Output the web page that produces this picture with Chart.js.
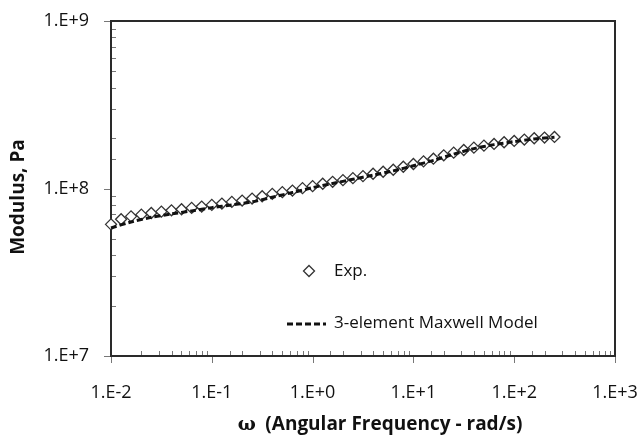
<!DOCTYPE html>
<html>
<head>
<meta charset="utf-8">
<script src="https://cdn.jsdelivr.net/npm/chart.js@4"></script>
<style>
  html, body { margin: 0; padding: 0; background: #fff; }
  #wrap { width: 640px; height: 437px; }
</style>
</head>
<body>
<div id="wrap"><canvas id="myChart" width="640" height="437"></canvas></div>
<script>
// angular frequency (rad/s)
var freqExp = [0.01, 0.0126, 0.0158, 0.02, 0.0251, 0.0316, 0.0398, 0.0501, 0.0631, 0.0794,
  0.1, 0.126, 0.158, 0.2, 0.251, 0.316, 0.398, 0.501, 0.631, 0.794,
  1, 1.26, 1.58, 2, 2.51, 3.16, 3.98, 5.01, 6.31, 7.94,
  10, 12.6, 15.8, 20, 25.1, 31.6, 39.8, 50.1, 63.1, 79.4,
  100, 126, 158, 200, 251];
// modulus, Pa (experiment)
var modExp = [6.11e7, 6.55e7, 6.82e7, 6.98e7, 7.14e7, 7.28e7, 7.41e7, 7.52e7, 7.66e7, 7.80e7,
  7.98e7, 8.13e7, 8.32e7, 8.47e7, 8.71e7, 8.99e7, 9.29e7, 9.51e7, 9.72e7, 1.005e8,
  1.033e8, 1.067e8, 1.096e8, 1.122e8, 1.153e8, 1.186e8, 1.225e8, 1.259e8, 1.294e8, 1.349e8,
  1.400e8, 1.452e8, 1.507e8, 1.578e8, 1.637e8, 1.698e8, 1.754e8, 1.803e8, 1.845e8, 1.888e8,
  1.923e8, 1.959e8, 1.995e8, 2.014e8, 2.032e8];
// 3-element maxwell model
var freqModel = [0.01, 0.0158, 0.0251, 0.0398, 0.0631, 0.1, 0.158, 0.251, 0.398, 0.631,
  1, 1.58, 2.51, 3.98, 6.31, 10, 15.8, 25.1, 39.8, 63.1, 100, 158, 251];
var modModel = [5.81e7, 6.31e7, 6.73e7, 7.05e7, 7.35e7, 7.69e7, 7.98e7, 8.32e7, 8.87e7, 9.46e7,
  1.012e8, 1.072e8, 1.135e8, 1.202e8, 1.274e8, 1.368e8, 1.472e8, 1.603e8, 1.730e8, 1.828e8,
  1.905e8, 1.977e8, 2.023e8];

var seriesNames = ['Exp.', '3-element Maxwell Model'];
var xTitle = '(Angular Frequency - rad/s)';
var yTitle = 'Modulus, Pa';

var FONT = '"Open Sans", sans-serif';

function pts(xs, ys) {
  var out = [];
  for (var i = 0; i < xs.length; i++) out.push({ x: xs[i], y: ys[i] });
  return out;
}

// label only the decades, like 1.E+8
function decadeLabel(value) {
  var l = Math.log10(value);
  if (Math.abs(l - Math.round(l)) > 1e-6) return '';
  var p = Math.round(l);
  return '1.E' + (p < 0 ? '-' : '+') + Math.abs(p);
}

// frame, tick marks, legend and axis titles
var extras = {
  id: 'extras',
  beforeDatasetsDraw: function (chart) {
    var c = chart.ctx, a = chart.chartArea;
    var xs = chart.scales.x, ys = chart.scales.y;
    c.save();
    // tick marks: decades outside, minors inside
    c.strokeStyle = '#777';
    c.lineWidth = 1;
    c.beginPath();
    xs.ticks.forEach(function (t) {
      var px = Math.round(xs.getPixelForValue(t.value)) + 0.5;
      if (decadeLabel(t.value)) { c.moveTo(px, a.bottom); c.lineTo(px, a.bottom + 7); }
      else { c.moveTo(px, a.bottom); c.lineTo(px, a.bottom - 5); }
    });
    ys.ticks.forEach(function (t) {
      var py = Math.round(ys.getPixelForValue(t.value)) + 0.5;
      if (decadeLabel(t.value)) { c.moveTo(a.left - 7, py); c.lineTo(a.left, py); }
      else { c.moveTo(a.left, py); c.lineTo(a.left + 5, py); }
    });
    c.stroke();
    // box
    c.strokeStyle = '#2a2a2a';
    c.lineWidth = 2;
    c.strokeRect(a.left, a.top, a.right - a.left, a.bottom - a.top);
    c.restore();
  },
  afterDraw: function (chart) {
    var c = chart.ctx;
    c.save();

    // legend
    var ds0 = chart.data.datasets[0], ds1 = chart.data.datasets[1];
    c.font = '17px ' + FONT;
    c.textBaseline = 'middle';
    c.textAlign = 'left';
    c.fillStyle = '#fff';
    c.strokeStyle = '#333';
    c.lineWidth = 1.3;
    c.beginPath();
    c.moveTo(309, 265.5); c.lineTo(314.5, 271); c.lineTo(309, 276.5); c.lineTo(303.5, 271); c.closePath();
    c.fill(); c.stroke();
    c.fillStyle = '#111';
    c.fillText(ds0.label, 334, 271);
    c.strokeStyle = '#111';
    c.lineWidth = 3;
    c.setLineDash([6, 3]);
    c.beginPath();
    c.moveTo(287, 324); c.lineTo(326, 324);
    c.stroke();
    c.setLineDash([]);
    c.fillText(ds1.label, 334, 323);

    // axis titles
    c.font = 'bold 19px "DejaVu Serif", serif';
    var wOmega = c.measureText('\u03c9 ').width + 3;
    c.font = 'bold 19px ' + FONT;
    var wRest = c.measureText(xTitle).width;
    var x0 = 380 - (wOmega + wRest) / 2;
    c.font = 'bold 19px "DejaVu Serif", serif';
    c.fillText('\u03c9', x0, 425);
    c.font = 'bold 19px ' + FONT;
    c.fillText(xTitle, x0 + wOmega, 425);

    c.font = 'bold 19px ' + FONT;
    c.translate(19, 197);
    c.rotate(-Math.PI / 2);
    c.textAlign = 'center';
    c.fillText(yTitle, 0, 0);
    c.restore();
  }
};

// invisible grid ticks push the labels away from the axes
var hiddenGrid = function (len) {
  return { display: true, drawOnChartArea: false, drawTicks: true, tickLength: len, color: 'rgba(0,0,0,0)' };
};

var ctx = document.getElementById('myChart').getContext('2d');
var chart = new Chart(ctx, {
  type: 'scatter',
  data: {
    datasets: [
      {
        label: seriesNames[0],
        data: pts(freqExp, modExp),
        pointStyle: 'rectRot',
        pointRadius: 5.5,
        pointBorderWidth: 1.3,
        pointBackgroundColor: '#fff',
        pointBorderColor: '#333',
        showLine: false,
        clip: false,
        order: 2
      },
      {
        label: seriesNames[1],
        data: pts(freqModel, modModel),
        showLine: true,
        borderColor: '#111',
        borderWidth: 3,
        borderDash: [6, 3],
        pointRadius: 0,
        tension: 0.3,
        clip: false,
        order: 1
      }
    ]
  },
  options: {
    responsive: false,
    animation: false,
    layout: { padding: { left: 0, top: 21, right: 25, bottom: 0 } },
    plugins: { legend: { display: false }, tooltip: { enabled: false } },
    scales: {
      x: {
        type: 'logarithmic',
        min: 0.01,
        max: 1000,
        grid: hiddenGrid(26),
        border: { display: false },
        ticks: {
          autoSkip: false,
          maxRotation: 0,
          padding: 0,
          color: '#111',
          font: { family: FONT, size: 18 },
          callback: function (v) { return decadeLabel(v); }
        },
        afterFit: function (s) { s.height = 81; }
      },
      y: {
        type: 'logarithmic',
        min: 1e7,
        max: 1e9,
        grid: hiddenGrid(22),
        border: { display: false },
        ticks: {
          autoSkip: false,
          padding: 0,
          color: '#111',
          font: { family: FONT, size: 18 },
          callback: function (v) { return decadeLabel(v); }
        },
        afterFit: function (s) { s.width = 111; }
      }
    }
  },
  plugins: [extras]
});
</script>
</body>
</html>
